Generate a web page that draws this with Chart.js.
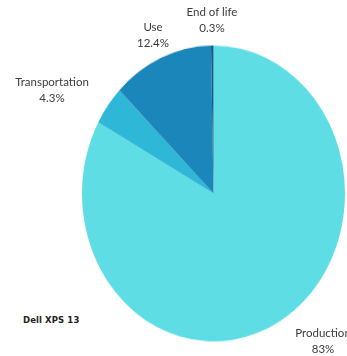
<!DOCTYPE html>
<html lang="en">
<head>
    <meta charset="UTF-8">
    <title>Dell XPS 13 footprint</title>
    <script src="https://cdn.jsdelivr.net/npm/chart.js"></script>
    <style>
        body {
            margin: 0;
            background: #fff;
            font-family: Lato, "Open Sans", sans-serif;
        }

        .stage {
            position: relative;
            width: 347px;
            height: 356px;
            overflow: hidden;
        }

        /* pie is drawn round, then stretched a little taller */
        .pie-box {
            position: absolute;
            left: 81.5px;
            top: 61.5px;
            width: 263px;
            height: 263px;
            transform: scaleY(1.125);
            transform-origin: 50% 50%;
        }

        .tag {
            position: absolute;
            text-align: center;
            font-size: 11.5px;
            line-height: 16px;
            color: #3b3b3b;
            white-space: nowrap;
            transform: translateX(-50%);
        }

        .model {
            position: absolute;
            left: 23px;
            top: 315px;
            font-family: "DejaVu Sans", sans-serif;
            font-weight: bold;
            font-size: 8.5px;
            letter-spacing: 0.1px;
            color: #222;
        }
    </style>
</head>
<body>
    <div class="stage" id="stage">
        <div class="pie-box"><canvas id="footprint" width="263" height="263"></canvas></div>
        <div class="model">Dell XPS 13</div>
    </div>

    <script>
        // lifecycle share of the carbon footprint, in percent
        const phases = ['Production', 'Transportation', 'Use', 'End of life'];
        const shares = [83, 4.3, 12.4, 0.3];
        const colours = ['#5fdde5', '#2eb7d6', '#1a86ba', '#0f5d8c'];

        // where each label block sits (centre x, top y)
        const labelSpots = [[323, 325], [52, 74], [153, 19], [212, 4]];

        new Chart(document.getElementById('footprint'), {
            type: 'pie',
            data: {
                labels: phases,
                datasets: [{
                    data: shares,
                    backgroundColor: colours,
                    borderWidth: 0
                }]
            },
            options: {
                responsive: false,
                animation: false,
                layout: { padding: 0 },
                plugins: {
                    legend: { display: false },
                    tooltip: { enabled: false }
                }
            }
        });

        const stage = document.getElementById('stage');
        phases.forEach((name, i) => {
            const tag = document.createElement('div');
            tag.className = 'tag';
            tag.style.left = labelSpots[i][0] + 'px';
            tag.style.top = labelSpots[i][1] + 'px';
            tag.innerHTML = name + '<br>' + shares[i] + '%';
            stage.appendChild(tag);
        });
    </script>
</body>
</html>
